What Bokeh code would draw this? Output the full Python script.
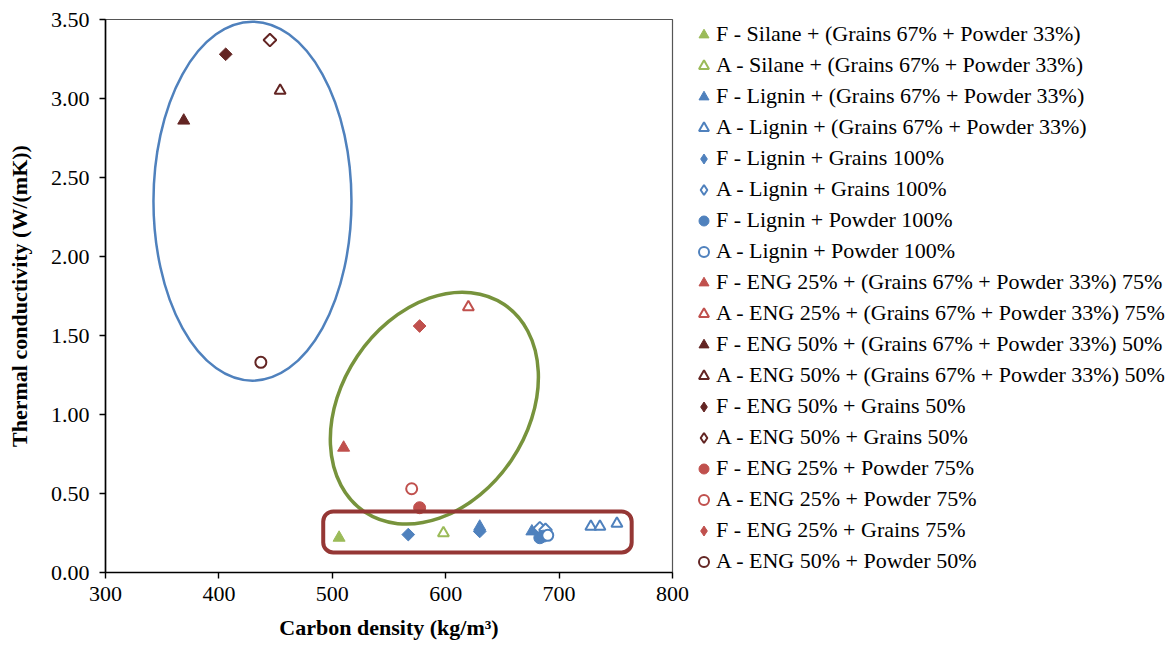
from bokeh.plotting import figure
from bokeh.models import BoxAnnotation, Range1d, FixedTicker, NumeralTickFormatter, Legend, LegendItem
from bokeh.embed import file_html
from bokeh.resources import INLINE

# ---- data ----
labels = [
    "F - Silane + (Grains 67% + Powder 33%)",
    "A - Silane + (Grains 67% + Powder 33%)",
    "F - Lignin + (Grains 67% + Powder 33%)",
    "A - Lignin + (Grains 67% + Powder 33%)",
    "F - Lignin + Grains 100%",
    "A - Lignin + Grains 100%",
    "F - Lignin + Powder 100%",
    "A - Lignin + Powder 100%",
    "F - ENG 25% + (Grains 67% + Powder 33%) 75%",
    "A - ENG 25% + (Grains 67% + Powder 33%) 75%",
    "F - ENG 50% + (Grains 67% + Powder 33%) 50%",
    "A - ENG 50% + (Grains 67% + Powder 33%) 50%",
    "F - ENG 50% + Grains 50%",
    "A - ENG 50% + Grains 50%",
    "F - ENG 25% + Powder 75%",
    "A - ENG 25% + Powder 75%",
    "F - ENG 25% + Grains 75%",
    "A - ENG 50% + Powder 50%",
]
x_values = [
    [506],
    [598],
    [630, 676],
    [728, 736, 751],
    [567, 630],
    [683, 688],
    [683, 686],
    [690],
    [510],
    [620],
    [369],
    [454],
    [406],
    [445],
    [577],
    [570],
    [577],
    [437],
]
y_values = [
    [0.22],
    [0.25],
    [0.29, 0.26],
    [0.29, 0.29, 0.31],
    [0.24, 0.26],
    [0.28, 0.27],
    [0.22, 0.23],
    [0.235],
    [0.79],
    [1.68],
    [2.86],
    [3.05],
    [3.28],
    [3.37],
    [0.41],
    [0.53],
    [1.56],
    [1.33],
]
x_ticks = [300, 400, 500, 600, 700, 800]
y_ticks = [0.0, 0.5, 1.0, 1.5, 2.0, 2.5, 3.0, 3.5]

# ---- styles ----
GREEN = "#9BBB59"
BLUE = "#4F81BD"
RED = "#C0504D"
DARK = "#632523"
styles = [
    (GREEN, "triangle", True), (GREEN, "triangle", False),
    (BLUE, "triangle", True), (BLUE, "triangle", False),
    (BLUE, "diamond", True), (BLUE, "diamond", False),
    (BLUE, "circle", True), (BLUE, "circle", False),
    (RED, "triangle", True), (RED, "triangle", False),
    (DARK, "triangle", True), (DARK, "triangle", False),
    (DARK, "diamond", True), (DARK, "diamond", False),
    (RED, "circle", True), (RED, "circle", False),
    (RED, "diamond", True), (DARK, "circle", False),
]

FONT = "Liberation Serif"

p = figure(frame_width=567, frame_height=553, output_backend="svg", toolbar_location=None,
           x_range=Range1d(300, 800), y_range=Range1d(0, 3.5),
           min_border_left=105, min_border_right=0, min_border_top=19, min_border_bottom=74)
p.grid.visible = False
p.outline_line_color = "#555555"
p.outline_line_width = 1.2
p.background_fill_color = "white"
p.border_fill_color = "white"

for ax in (p.xaxis[0], p.yaxis[0]):
    ax.axis_line_color = "black"
    ax.axis_line_width = 1.6
    ax.major_tick_line_color = "black"
    ax.major_tick_line_width = 1.4
    ax.major_tick_out = 6
    ax.major_tick_in = 0
    ax.minor_tick_line_color = None
    ax.major_label_text_font = FONT
    ax.major_label_text_font_size = "22px"
    ax.major_label_text_color = "black"
    ax.axis_label_text_font = FONT
    ax.axis_label_text_font_style = "bold"
    ax.axis_label_text_font_size = "22px"
    ax.axis_label_text_color = "black"

p.xaxis.ticker = FixedTicker(ticks=x_ticks)
p.yaxis.ticker = FixedTicker(ticks=y_ticks)
p.yaxis.formatter = NumeralTickFormatter(format="0.00")
p.xaxis.axis_label = "Carbon density (kg/m³)"
p.yaxis.axis_label = "Thermal conductivity (W/(mK))"
p.xaxis.major_label_standoff = 8
p.yaxis.major_label_standoff = 10
p.xaxis.axis_label_standoff = 11
p.yaxis.axis_label_standoff = 16

# ---- annotations: ellipses and rounded box ----
p.ellipse(x=[429.6], y=[2.35], width=198, height=359,
          width_units="screen", height_units="screen",
          fill_color=None, line_color="#4F81BD", line_width=2.5)
p.ellipse(x=[590], y=[1.04], width=250, height=186, angle=56, angle_units="deg",
          width_units="screen", height_units="screen",
          fill_color=None, line_color="#77933C", line_width=3.5)
box = BoxAnnotation(left=492, right=764, bottom=0.127, top=0.386,
                    fill_color=None, fill_alpha=0, line_color="#953735",
                    line_alpha=1, line_width=4, border_radius=10)
p.add_layout(box)

# ---- series ----
items = []
for lab, xs, ys, (col, mk, filled) in zip(labels, x_values, y_values, styles):
    kw = dict(line_color=col, fill_color=col if filled else "white",
              line_width=1 if filled else 2)
    if mk == "diamond":
        r = p.scatter(xs, ys, marker="square", angle=0.785398, size=9, **kw)
        leg_r = p.scatter(xs, ys, marker="diamond", size=0, **kw)
    elif mk == "triangle":
        r = p.scatter(xs, ys, marker="triangle", size=12 if filled else 11, **kw)
        leg_r = r
    else:
        r = p.scatter(xs, ys, marker="circle", size=12 if filled else 11, **kw)
        leg_r = r
    items.append(LegendItem(label=lab, renderers=[leg_r]))

legend = Legend(items=items, location=(19, -2))
legend.background_fill_alpha = 0
legend.border_line_alpha = 0
legend.padding = 0
legend.margin = 0
legend.spacing = 5
legend.glyph_width = 25
legend.glyph_height = 25
legend.label_height = 25
legend.label_standoff = 0
legend.label_text_font = FONT
legend.label_text_font_size = "22px"
legend.label_text_color = "black"
p.add_layout(legend, "right")

open("out.html", "w").write(file_html(p, INLINE))
